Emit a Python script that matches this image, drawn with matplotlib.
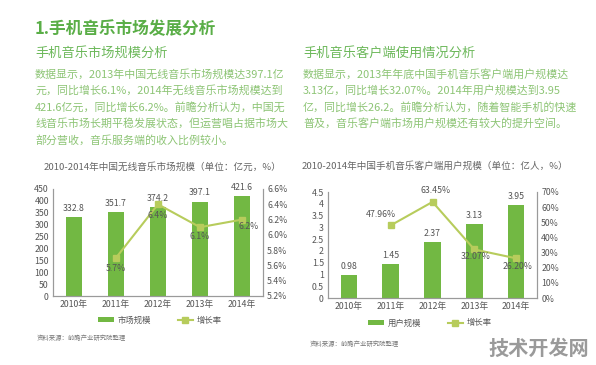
import matplotlib.pyplot as plt
import numpy as np

plt.rcParams['font.family'] = ['Noto Sans CJK SC', 'DejaVu Sans']

# 数据
years = ['2010年', '2011年', '2012年', '2013年', '2014年']
market_size = [332.8, 351.7, 374.2, 397.1, 421.6]
market_growth = [None, 5.7, 6.4, 6.1, 6.2]
users = [0.98, 1.45, 2.37, 3.13, 3.95]
users_growth = [None, 47.96, 63.45, 32.07, 26.20]

market_yticks = [0, 50, 100, 150, 200, 250, 300, 350, 400, 450]
market_y2ticks = [5.2, 5.4, 5.6, 5.8, 6.0, 6.2, 6.4, 6.6]
users_yticks = [0, 0.5, 1, 1.5, 2, 2.5, 3, 3.5, 4, 4.5]
users_yticklabels = ['0', '0.5', '1', '1.5', '2', '2.5', '3', '3.5', '4', '4.5']
users_y2ticks = [0, 10, 20, 30, 40, 50, 60, 70]

bar_color = '#72b843'
line_color = '#b7cc5c'
axis_color = '#9a9a9a'
label_color = '#555555'

header = '1.手机音乐市场发展分析'
sub_left = '手机音乐市场规模分析'
sub_right = '手机音乐客户端使用情况分析'
body_left = ['数据显示，2013年中国无线音乐市场规模达397.1亿',
             '元，同比增长6.1%，2014年无线音乐市场规模达到',
             '421.6亿元，同比增长6.2%。前瞻分析认为，中国无',
             '线音乐市场长期平稳发展状态，但运营唱占据市场大',
             '部分营收，音乐服务端的收入比例较小。']
body_right = ['数据显示，2013年年底中国手机音乐客户端用户规模达',
              '3.13亿，同比增长32.07%。2014年用户规模达到3.95',
              '亿，同比增长26.2。前瞻分析认为，随着智能手机的快速',
              '普及，音乐客户端市场用户规模还有较大的提升空间。']
title_left = '2010-2014年中国无线音乐市场规模（单位：亿元，%）'
title_right = '2010-2014年中国手机音乐客户端用户规模（单位：亿人，%）'
source = '资料来源：前瞻产业研究院整理'

W, H = 596, 365
fig = plt.figure(figsize=(W / 100, H / 100), dpi=100)


def px(x, y):
    return x / W, 1 - y / H


# 顶部文字
fig.text(*px(35, 29), header, fontsize=12, color='#5aae47', weight='bold', va='center')
fig.text(*px(35, 53), sub_left, fontsize=9.5, color='#6cb85a', va='center')
fig.text(*px(303, 53), sub_right, fontsize=9.5, color='#6cb85a', va='center')
for i, line in enumerate(body_left):
    fig.text(*px(35, 74 + i * 16.6), line, fontsize=7.9, color='#8cc474', va='center')
for i, line in enumerate(body_right):
    fig.text(*px(303, 74 + i * 16.6), line, fontsize=7.9, color='#8cc474', va='center')


def draw(rect, vals, growth, yticks, yticklabels, y2ticks, y2labels, vfmt, gfmt,
         offsets, title, tpos, leg, legpos, src_pos):
    ax = fig.add_axes(rect)
    x = np.arange(len(years))
    ax.bar(x, vals, width=0.4, color=bar_color, label=leg, zorder=2)
    for xi, v in zip(x, vals):
        ax.annotate(vfmt.format(v), (xi, v), xytext=(0, 3), textcoords='offset points',
                    ha='center', va='bottom', fontsize=6.3, color=label_color)
    ax.set_ylim(yticks[0], yticks[-1])
    ax.set_yticks(yticks)
    ax.set_yticklabels(yticklabels)
    ax.set_xticks(x)
    ax.set_xticklabels(years)
    ax.set_xlim(-0.5, 4.5)

    ax2 = ax.twinx()
    gx = [xi for xi, g in zip(x, growth) if g is not None]
    gy = [g for g in growth if g is not None]
    ax2.plot(gx, gy, color=line_color, lw=1.5, marker='s', markersize=4,
             markerfacecolor=line_color, markeredgecolor=line_color, label='增长率', zorder=3)
    for xi, g, off in zip(gx, gy, offsets):
        ax2.annotate(gfmt.format(g), (xi, g), xytext=off, textcoords='offset points',
                     ha='center', va='center', fontsize=6.3, color=label_color)
    ax2.set_ylim(y2ticks[0], y2ticks[-1])
    ax2.set_yticks(y2ticks)
    ax2.set_yticklabels(y2labels)

    for a in (ax, ax2):
        a.spines['top'].set_visible(False)
        for s in ('left', 'right', 'bottom'):
            a.spines[s].set_color(axis_color)
            a.spines[s].set_linewidth(0.8)
        a.tick_params(length=0, labelsize=6.3, labelcolor=label_color, pad=3)

    fig.text(*px(*tpos), title, fontsize=6.9, color='#666666', ha='center', va='center')
    h1, l1 = ax.get_legend_handles_labels()
    h2, l2 = ax2.get_legend_handles_labels()
    fig.legend(h1 + h2, l1 + l2, loc='center', bbox_to_anchor=px(*legpos), ncol=2,
               frameon=False, fontsize=6, handlelength=1.9, handleheight=0.5,
               handletextpad=0.4, columnspacing=3.2, labelcolor=label_color)
    fig.text(*px(*src_pos), source, fontsize=4.6, color='#777777', va='center')


draw([53 / W, 1 - 296 / H, 210 / W, 107 / H], market_size, market_growth,
     market_yticks, [str(t) for t in market_yticks],
     market_y2ticks, ['{:.1f}%'.format(t) for t in market_y2ticks], '{:.1f}', '{:.1f}%',
     [(0, -8), (0, -8), (0, -7), (5, -5)], title_left, (162, 167), '市场规模', (160, 320), (37, 338))

draw([328 / W, 1 - 298 / H, 209 / W, 106 / H], users, users_growth,
     users_yticks, users_yticklabels,
     users_y2ticks, ['{}%'.format(t) for t in users_y2ticks], '{:.2f}', '{:.2f}%',
     [(-7, 8), (2, 8), (1, -5), (1, -6)], title_right, (435, 166), '用户规模', (430, 323), (310, 344))

fig.text(*px(539, 348), '技术开发网', fontsize=14.5, color='#9a9a9a', weight='bold',
         ha='center', va='center')

fig.savefig('out.png', dpi=100, facecolor='white')
